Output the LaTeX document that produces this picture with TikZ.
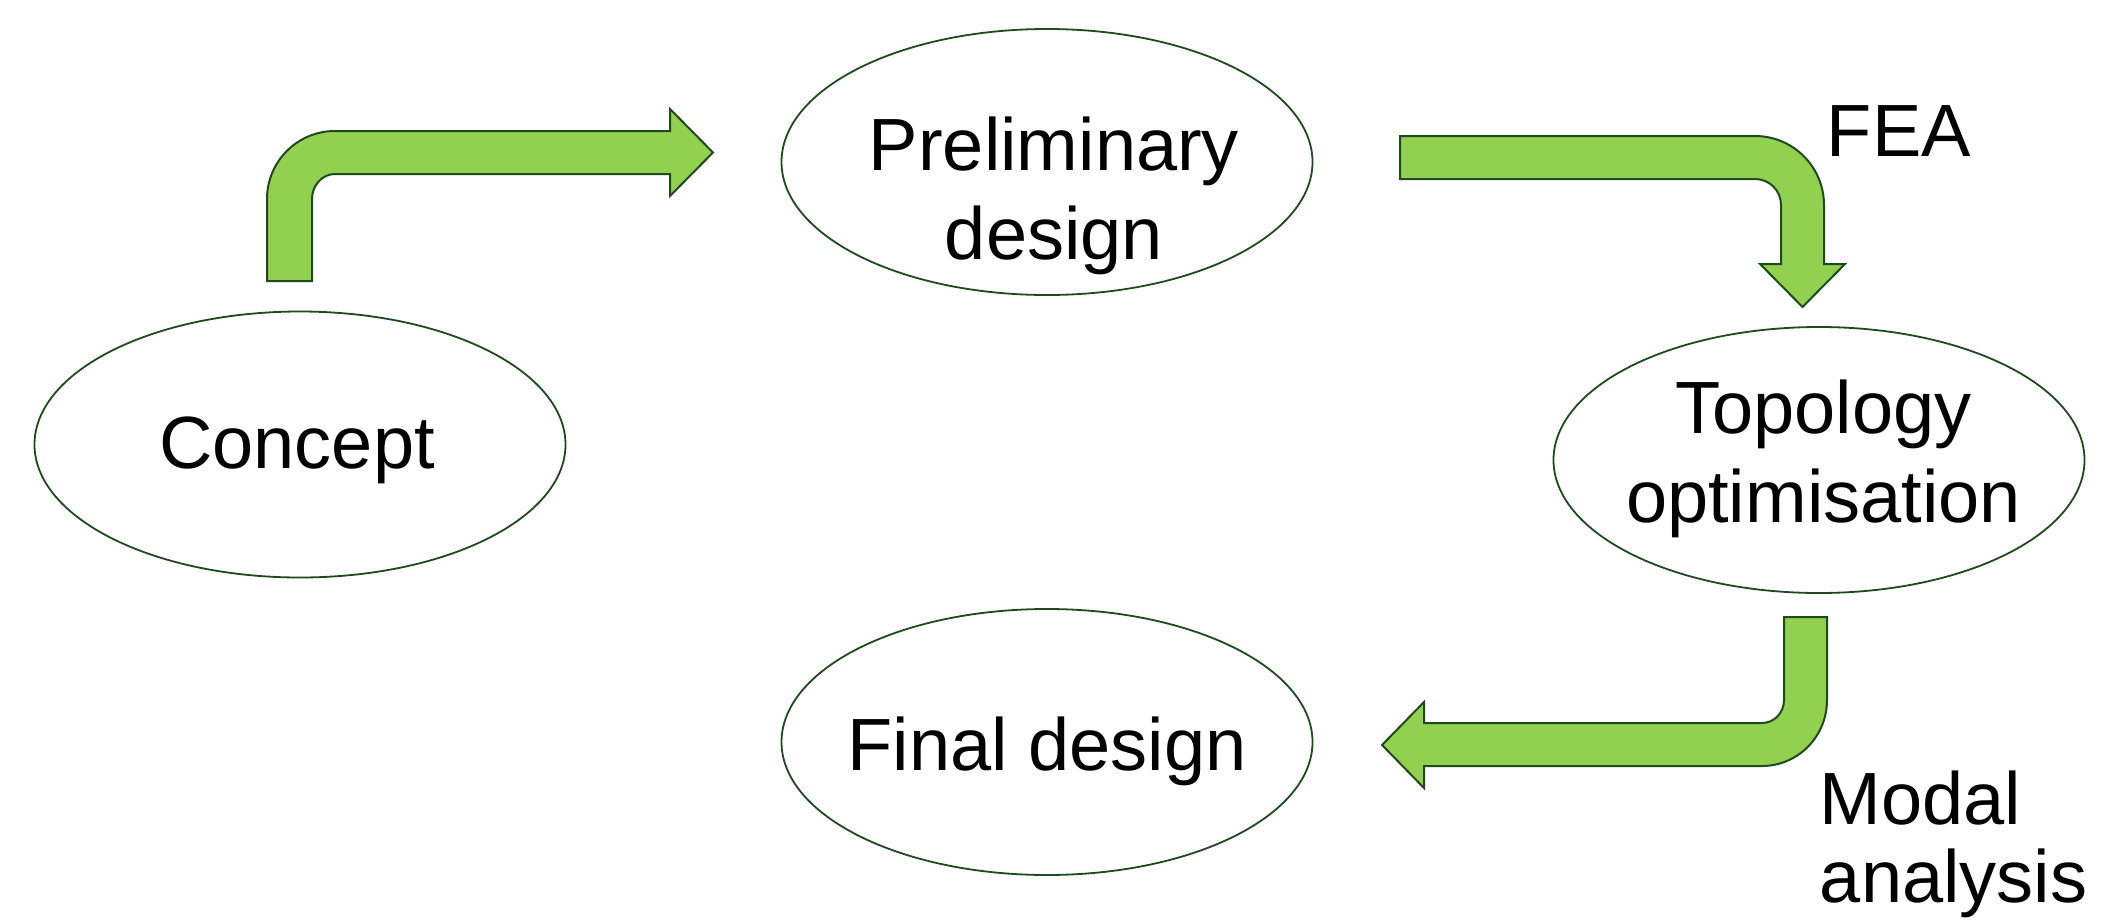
\documentclass[tikz,border=0pt]{standalone}
\usepackage{fontspec}
\setmainfont{Liberation Sans}
\usetikzlibrary{shapes.geometric}
\definecolor{arrowfill}{HTML}{92D050}
\definecolor{darkedge}{HTML}{1E4A1E}
\tikzset{
  stage/.style={ellipse, draw=darkedge, line width=0.9pt, fill=white, inner sep=0pt,
    minimum width=265.5pt, minimum height=133pt},
  blockarrow/.style={fill=arrowfill, draw=darkedge, line width=1pt, line join=miter},
  label/.style={inner sep=0pt, font=\fontsize{37}{44.5}\selectfont},
  sidelabel/.style={inner sep=0pt, font=\fontsize{37}{39}\selectfont}
}
\begin{document}
\begin{tikzpicture}[x=0.5pt,y=-0.5pt]
\useasboundingbox (0,0) rectangle (2121,922);

% ellipses
\node[stage] (concept) at (300,444.5) {};
\node[stage] (prelim) at (1047,162) {};
\node[stage] (topo) at (1819,460) {};
\node[stage] (final) at (1047,742) {};

% texts
\node[label, anchor=base] (concepttext) at (297,468) {Concept};
\node[label, anchor=base] (prelimtext) at (1054,170) {\begin{tabular}[t]{@{}c@{}}Preliminary\\design\end{tabular}};
\node[label, anchor=base] (topotext) at (1823.5,433) {\begin{tabular}[t]{@{}c@{}}Topology\\optimisation\end{tabular}};
\node[label, anchor=base] (finaltext) at (1047,770) {Final design};
\node[label, anchor=base west] (fea) at (1826.5,156) {FEA};
\node[sidelabel, anchor=base west] (modal) at (1819.5,824) {\begin{tabular}[t]{@{}l@{}}Modal\\analysis\end{tabular}};

% arrow: concept -> preliminary design
\draw[blockarrow] (267,281) -- (267,199)
  .. controls (267,161.4) and (297.4,131) .. (335,131)
  -- (670,131) -- (670,109) -- (713,152.5) -- (670,196) -- (670,174) -- (335,174)
  .. controls (322.3,174) and (312,185.2) .. (312,199)
  -- (312,281) -- cycle;

% arrow: preliminary design -> topology optimisation
\draw[blockarrow] (1400,136) -- (1755,136)
  .. controls (1793.1,136) and (1824,166.9) .. (1824,205)
  -- (1824,264) -- (1845,264) -- (1802.5,307) -- (1760,264) -- (1781,264) -- (1781,205)
  .. controls (1781,190.6) and (1769.4,179) .. (1755,179)
  -- (1400,179) -- cycle;

% arrow: topology optimisation -> final design
\draw[blockarrow] (1784,617) -- (1827,617) -- (1827,700)
  .. controls (1827,736.5) and (1797.9,766) .. (1762,766)
  -- (1424,766) -- (1424,788) -- (1382,745) -- (1424,702) -- (1424,723) -- (1762,723)
  .. controls (1774.2,723) and (1784,712.7) .. (1784,700)
  -- cycle;
\end{tikzpicture}
\end{document}
